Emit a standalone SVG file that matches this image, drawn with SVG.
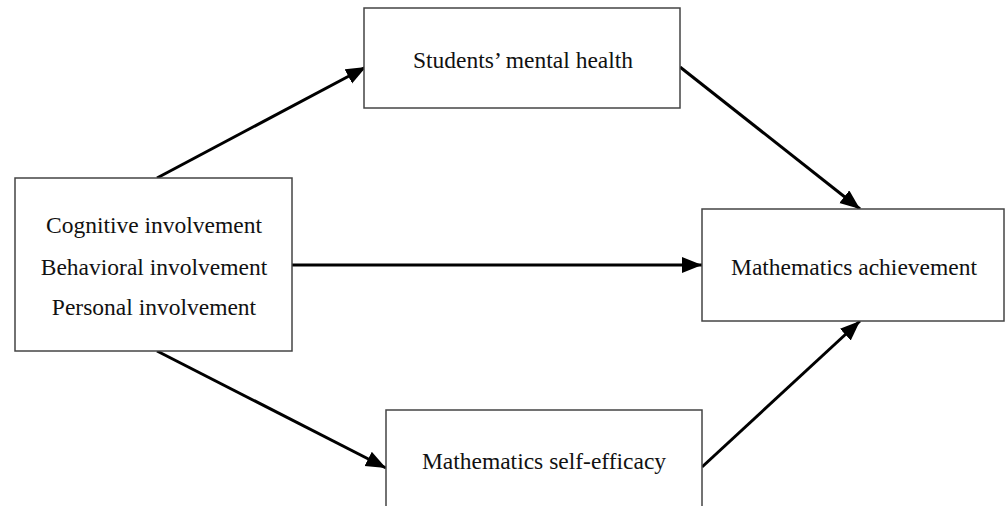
<svg xmlns="http://www.w3.org/2000/svg" width="1005" height="506" viewBox="0 0 1005 506">
<style>
.box{fill:#fff;stroke:#444;stroke-width:1.5}
.t{font-family:"Liberation Serif","Times New Roman",serif;font-size:23.5px;fill:#111;text-anchor:middle}
.c{stroke:#000;stroke-width:3;fill:none;marker-end:url(#ah)}
</style>
<defs>
<marker id="ah" markerUnits="userSpaceOnUse" markerWidth="22" markerHeight="18" refX="20" refY="8" orient="auto">
<path d="M0,0 L20,8 L0,16 Z" fill="#000"/>
</marker>
</defs>
<rect width="1005" height="506" fill="#fff"/>
<g id="connectors">
<line class="c" x1="157" y1="178" x2="366" y2="67"/>
<line class="c" x1="680" y1="67" x2="860" y2="209"/>
<line class="c" x1="292" y1="265" x2="702" y2="265"/>
<line class="c" x1="157" y1="351" x2="386" y2="468"/>
<line class="c" x1="702" y1="467" x2="860" y2="321"/>
</g>
<g id="involvement">
<rect class="box" x="15" y="178" width="277" height="173"/>
<text class="t" x="154" y="233">Cognitive involvement</text>
<text class="t" x="154" y="275">Behavioral involvement</text>
<text class="t" x="154" y="315">Personal involvement</text>
</g>
<g id="mental-health">
<rect class="box" x="364" y="8" width="316" height="100"/>
<text class="t" x="523" y="68">Students’ mental health</text>
</g>
<g id="achievement">
<rect class="box" x="702" y="209" width="302" height="112"/>
<text class="t" x="854" y="275">Mathematics achievement</text>
</g>
<g id="self-efficacy">
<rect class="box" x="386" y="410" width="316" height="110"/>
<text class="t" x="544" y="469">Mathematics self-efficacy</text>
</g>
</svg>
